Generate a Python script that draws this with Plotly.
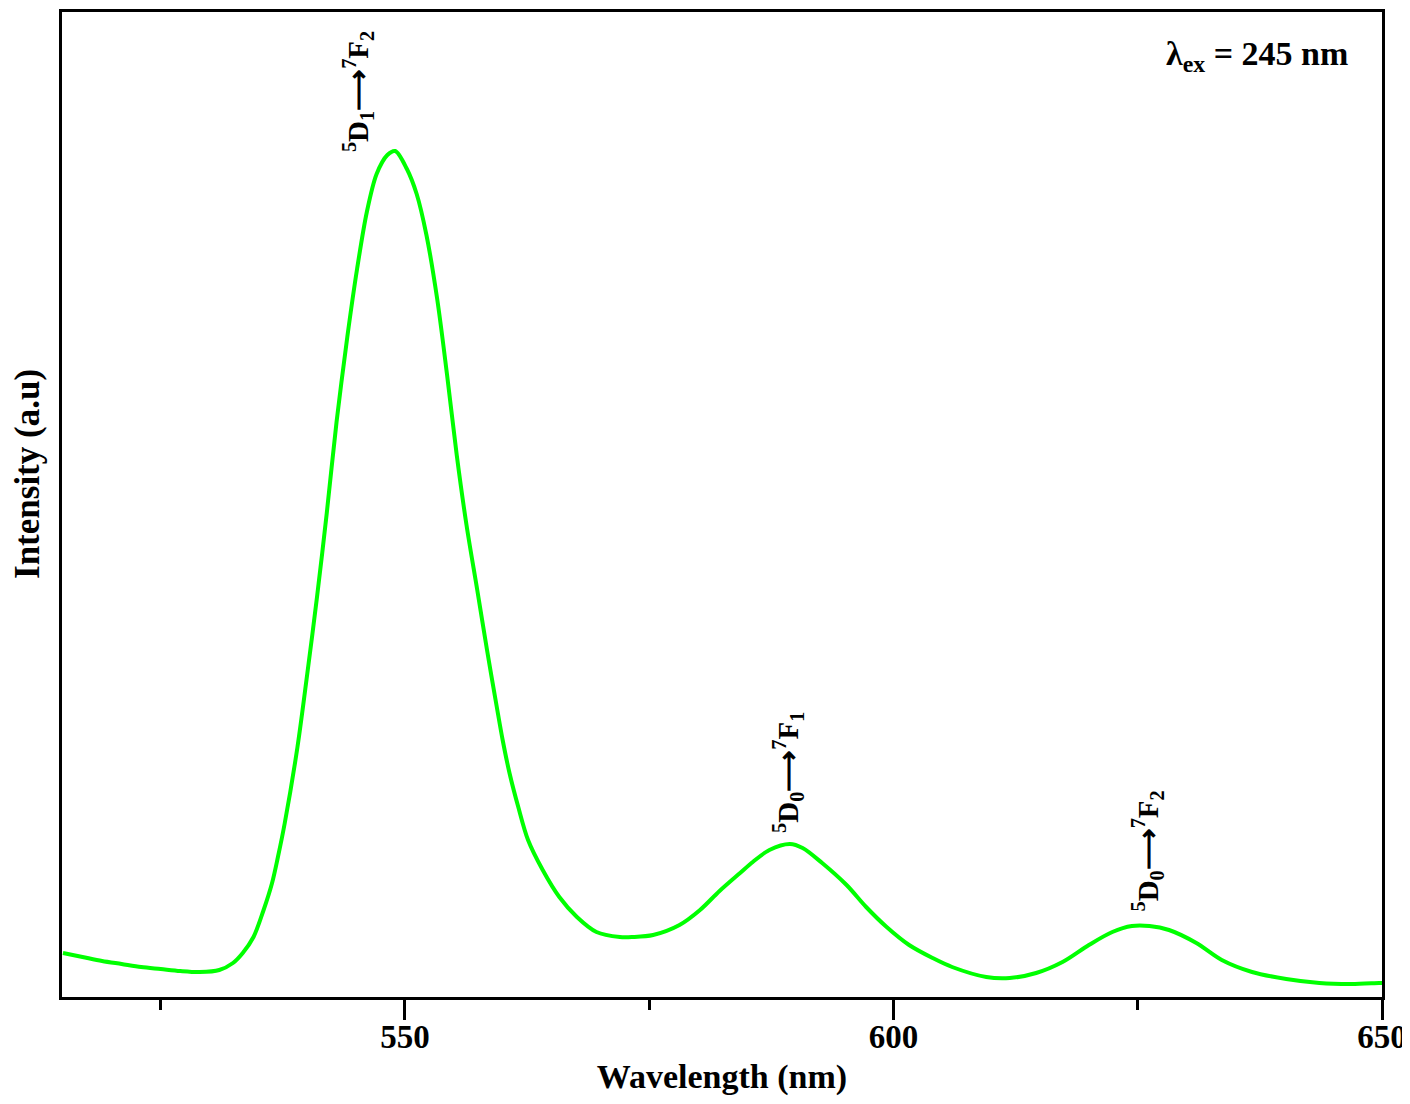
import plotly.graph_objects as go

wavelength = [515, 517, 519, 521, 523, 525, 527, 529, 531,
              532.4, 533.4, 534.5, 535.5, 536.4, 537.0, 537.7, 539.0, 540.0, 541.0, 542.0,
              543.0, 544.1, 545.1, 546.1, 547.1, 548.2, 549.0, 550.2, 551.2, 552.2,
              553.3, 554.3, 555.3, 556.3, 557.4, 558.4, 559.4, 560.0, 560.7, 561.6,
              562.6, 564.1, 565.8, 567.6, 569.6, 572.0, 573.3, 575.4, 578.1, 580.2,
              582.2, 584.3, 585.6, 587.3, 589.4, 590.7, 592.7, 595.2, 597.2, 599.3,
              601.6, 604.0, 606.0, 609.5, 611.9, 614.6, 617.3, 620.0, 622.4, 624.4,
              626.2, 628.2, 631.0, 633.6, 636.7, 640.2, 643.6, 646.9, 649.7, 650]
intensity = [44, 40, 36, 33, 30, 28, 26, 25, 27,
             34, 44, 60, 86, 114, 140, 174, 250, 323, 400, 484,
             575, 660, 728, 785, 823, 842, 846, 828, 803, 762,
             698, 623, 542, 472, 407, 347, 290, 257, 224, 190,
             157, 127, 100, 80, 65, 60, 60, 62, 72, 87,
             106, 124, 135, 147, 153, 149, 134, 112, 90, 70,
             52, 39, 30, 20, 19, 24, 35, 52, 65, 71,
             71, 67, 54, 37, 25, 18, 14, 13, 14, 14]

x_ticks = [550, 600, 650]
x_minor_ticks = [525, 575, 625]
peak_labels = ["<sup>5</sup>D<sub>1</sub>\u27f6<sup>7</sup>F<sub>2</sub>",
               "<sup>5</sup>D<sub>0</sub>\u27f6<sup>7</sup>F<sub>1</sub>",
               "<sup>5</sup>D<sub>0</sub>\u27f6<sup>7</sup>F<sub>2</sub>"]
peak_x = [545.2, 589.2, 626.0]
peak_y = [905, 225, 146]

FONT = "Liberation Serif"

fig = go.Figure()
fig.add_trace(go.Scatter(x=wavelength, y=intensity, mode="lines",
                         line=dict(color="#00ff00", width=4, shape="spline", smoothing=0.9),
                         showlegend=False, hoverinfo="skip"))

for lab, px, py in zip(peak_labels, peak_x, peak_y):
    fig.add_annotation(x=px, y=py, xref="x", yref="y", text=lab,
                       textangle=-90, showarrow=False,
                       font=dict(family=FONT, size=29, color="black", weight="bold"))

fig.add_annotation(x=0.976, y=0.955, xref="paper", yref="paper", xanchor="right",
                   yanchor="middle", showarrow=False,
                   text="\u03bb<sub>ex</sub> = 245 nm",
                   font=dict(family=FONT, size=34, color="black", weight="bold"))

# y-axis title (sits a little above the plot's vertical centre in the reference)
fig.add_annotation(x=0, y=0.531, xref="paper", yref="paper", xanchor="center",
                   yanchor="middle", xshift=-34, showarrow=False, textangle=-90,
                   text="Intensity (a.u)",
                   font=dict(family=FONT, size=35, color="black", weight="bold"))

# page body has an 8px default margin; size the figure so the plot lands where the reference has it
fig.update_layout(
    width=1402, height=1088,
    margin=dict(l=54, r=28, t=4, b=99),
    paper_bgcolor="white", plot_bgcolor="white",
    font=dict(family=FONT, color="black"),
    xaxis=dict(range=[514.9, 650], tickvals=x_ticks, automargin=False,
               ticks="outside", ticklen=20, tickwidth=3, tickcolor="black",
               ticklabelstandoff=-12, ticklabeloverflow="allow",
               minor=dict(tickvals=x_minor_ticks, ticks="outside", ticklen=10,
                          tickwidth=3, tickcolor="black", showgrid=False),
               showline=True, linewidth=3, linecolor="black", mirror=True,
               showgrid=False, zeroline=False,
               tickfont=dict(family=FONT, size=33, color="black", weight="bold"),
               title=dict(text="Wavelength (nm)", standoff=18,
                          font=dict(family=FONT, size=34, color="black", weight="bold"))),
    yaxis=dict(range=[0, 985], showticklabels=False, ticks="", automargin=False,
               showline=True, linewidth=3, linecolor="black", mirror=True,
               showgrid=False, zeroline=False),
)

fig.write_html("out.html")
